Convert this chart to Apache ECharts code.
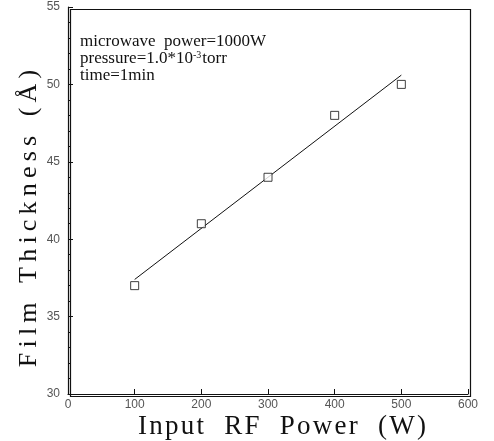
<!DOCTYPE html>
<html>
<head>
<meta charset="utf-8">
<script src="https://cdn.jsdelivr.net/npm/echarts@6/dist/echarts.min.js"></script>
<style>
  html, body { margin: 0; padding: 0; background: #fff; }
  #chart { width: 494px; height: 441px; }
</style>
</head>
<body>
<div id="chart"></div>
<script>
// measured points (RF power in W, thickness in angstrom)
const rfPower = [100, 200, 300, 400, 500]
const thickness = [37, 41, 44, 48, 50]
// ends of the drawn fit line
const fitX = [100, 500]
const fitY = [37.4, 50.6]

const chart = echarts.init(document.getElementById('chart'))

const serif = '"Liberation Serif", "DejaVu Serif", serif'
const sans = '"Liberation Sans", Arial, sans-serif'

// the scanned titles are set with wide letter spacing
const spaced = (words, sep, gap) => words.map(w => w.split('').join(sep)).join(gap)

const option = {
  animation: false,
  backgroundColor: '#fff',
  grid: { left: 68, right: 26, top: 7, bottom: 47, outerBoundsMode: 'none', containLabel: false },
  xAxis: {
    type: 'value',
    min: 0,
    max: 600,
    interval: 100,
    name: spaced(['Input', 'RF', 'Power', '(W)'], '\u200A', '   '),
    nameLocation: 'middle',
    nameGap: 19,
    nameMoveOverlap: false,
    nameTextStyle: { fontFamily: serif, fontSize: 27, color: '#111', padding: [0, 0, 0, 28] },
    axisLine: { lineStyle: { color: '#111', width: 1.2 } },
    axisTick: { inside: true, length: 5, lineStyle: { color: '#111' } },
    axisLabel: { color: '#555', fontFamily: sans, fontSize: 12, margin: 5 },
    splitLine: { show: false }
  },
  yAxis: {
    type: 'value',
    min: 30,
    max: 55,
    interval: 5,
    name: spaced(['Film', 'Thickness', '(Å)'], '\u2009', '   '),
    nameLocation: 'middle',
    nameGap: 26,
    nameMoveOverlap: false,
    nameTextStyle: { fontFamily: serif, fontSize: 26, color: '#111', padding: [0, 36, 0, 0] },
    axisLine: { lineStyle: { color: '#111', width: 1.2 } },
    axisTick: { inside: true, length: 5, lineStyle: { color: '#111' } },
    minorTick: { show: true, splitNumber: 5, length: 3, lineStyle: { color: '#111' } },
    axisLabel: { color: '#555', fontFamily: sans, fontSize: 12, margin: 8 },
    splitLine: { show: false }
  },
  series: [
    {
      type: 'line',
      data: fitX.map((x, i) => [x, fitY[i]]),
      showSymbol: false,
      lineStyle: { color: '#111', width: 1 },
      silent: true
    },
    {
      type: 'scatter',
      data: rfPower.map((x, i) => [x, thickness[i]]),
      symbol: 'rect',
      symbolSize: 8,
      itemStyle: { color: '#fff', borderColor: '#111', borderWidth: 1 },
      z: 5
    }
  ],
  graphic: [
    {
      type: 'group',
      left: 68,
      top: 7,
      children: [
        {
          type: 'rect',
          shape: { x: 0, y: 0, width: 400, height: 387 },
          style: { fill: 'none', stroke: '#111', lineWidth: 1.2 },
          silent: true
        }
      ]
    },
    {
      type: 'text',
      left: 80,
      top: 33,
      style: {
        text: 'microwave  power=1000W\n{n|pressure=1.0*10}{s|-3}{n|torr}\ntime=1min',
        font: '17px ' + serif,
        fill: '#111',
        lineHeight: 17,
        rich: {
          n: { font: '17px ' + serif, fill: '#111' },
          s: { font: '10px ' + serif, fill: '#111', verticalAlign: 'top', padding: [0, 1, 8, 0] }
        }
      }
    }
  ]
}

chart.setOption(option)
</script>
</body>
</html>
